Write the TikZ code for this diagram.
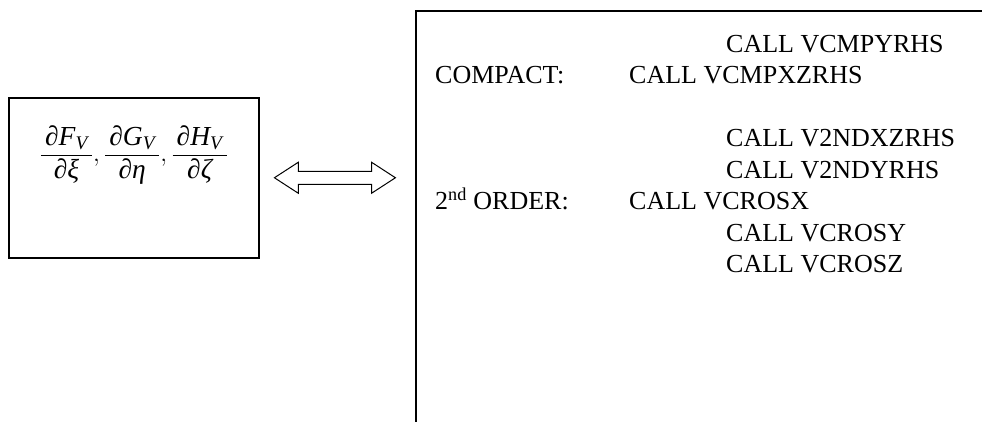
\documentclass[tikz,border=0pt]{standalone}
\usepackage{amsmath}
\usepackage{fontspec}
\setmainfont{Liberation Serif}
\usetikzlibrary{positioning,shapes.arrows}

\newcommand\itx[1]{\text{\itshape #1}}
\newcommand\dfr[3]{\dfrac{\,\itx{∂#1}_{\itx{#2}}\,}{\itx{∂#3}}}

\tikzset{
  code/.style={anchor=base west, inner sep=0pt, font=\fontsize{26}{30}\selectfont},
  dblarrow/.style={double arrow, draw, line width=1pt, inner xsep=0pt, inner ysep=6pt,
    minimum height=121pt, double arrow head extend=9pt, double arrow tip angle=66}
}

\begin{document}
\begin{tikzpicture}[x=1pt, y=-1pt]
\useasboundingbox (0,0) rectangle (982,421);
\clip (0,0) rectangle (982,421);
% left box with the viscous flux terms
\node [draw, line width=1.5pt, anchor=north west, minimum width=250pt, minimum height=160pt] (lhs) at (8,97) {};
\node [font=\fontsize{27.5}{32}\selectfont] (flux) at ([yshift=-58pt]lhs.north)
  {$\dfr{F}{V}{ξ},\dfr{G}{V}{η},\dfr{H}{V}{ζ}$};
% right box, runs off the page
\node [draw, line width=2pt, anchor=north west, minimum width=700pt, minimum height=500pt] (rhs) at (415,10) {};
\node [dblarrow, right=14pt of lhs] (arr) {};
% subroutine calls
\node [code] (cmpy) at (726,52) {CALL VCMPYRHS};
\node [code] (compact) at (435,83.5) {COMPACT:};
\node [code] (cmpxz) at (629,83.5) {CALL VCMPXZRHS};
\node [code] (ndxz) at (726,146.5) {CALL V2NDXZRHS};
\node [code] (ndy) at (726,178) {CALL V2NDYRHS};
\node [code] (order) at (435,209.5) {2\textsuperscript{nd} ORDER:};
\node [code] (crosx) at (629,209.5) {CALL VCROSX};
\node [code] (crosy) at (726,241) {CALL VCROSY};
\node [code] (crosz) at (726,272.5) {CALL VCROSZ};
\end{tikzpicture}
\end{document}
